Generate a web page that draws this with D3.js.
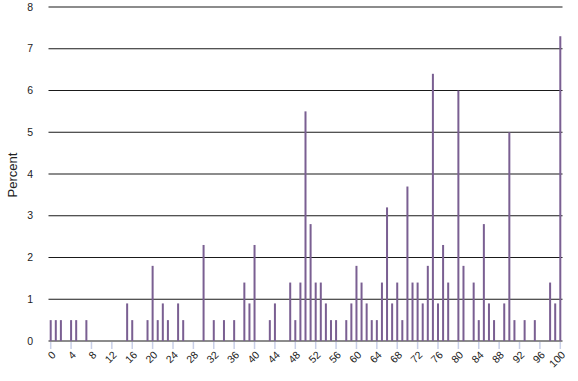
<!DOCTYPE html>
<html><head><meta charset="utf-8">
<script src="https://cdn.jsdelivr.net/npm/d3@7"></script>
<style>body{margin:0;background:#fff}svg{display:block}text{font-family:"Liberation Sans",Arial,sans-serif;fill:#222}</style>
</head><body>
<svg id="c" width="578" height="381"></svg>
<script>
const positions = [0,1,2,4,5,7,15,16,19,20,21,22,23,25,26,30,32,34,36,38,39,40,43,44,47,48,49,50,51,52,53,54,55,56,58,59,60,61,62,63,64,65,66,67,68,69,70,71,72,73,74,75,76,77,78,80,81,83,84,85,86,87,89,90,91,93,95,98,99,100];
const percents = [0.5,0.5,0.5,0.5,0.5,0.5,0.9,0.5,0.5,1.8,0.5,0.9,0.5,0.9,0.5,2.3,0.5,0.5,0.5,1.4,0.9,2.3,0.5,0.9,1.4,0.5,1.4,5.5,2.8,1.4,1.4,0.9,0.5,0.5,0.5,0.9,1.8,1.4,0.9,0.5,0.5,1.4,3.2,0.9,1.4,0.5,3.7,1.4,1.4,0.9,1.8,6.4,0.9,2.3,1.4,6.0,1.8,1.4,0.5,2.8,0.9,0.5,0.9,5.0,0.5,0.5,0.5,1.4,0.9,7.3];
const xTicks = d3.range(0,101,4);
const yTicks = [0,1,2,3,4,5,6,7,8];
const yLabel = "Percent";

const svg = d3.select("#c");
const x = d3.scaleLinear().domain([0,100]).range([50.7,560.3]);
const y = d3.scaleLinear().domain([0,8]).range([341,7]);

// gridlines
svg.append("g").selectAll("line").data(yTicks).join("line")
  .attr("x1",48.5).attr("x2",562.5)
  .attr("y1",d=>y(d)).attr("y2",d=>y(d))
  .attr("stroke","#1a1a1a").attr("stroke-width",1.2);

// y labels
svg.append("g").selectAll("text").data(yTicks).join("text")
  .attr("x",33).attr("y",d=>y(d)).attr("dy","0.35em")
  .attr("text-anchor","end").attr("font-size",10.5).text(d=>d);

// x ticks
svg.append("g").selectAll("line").data(xTicks).join("line")
  .attr("x1",d=>x(d)).attr("x2",d=>x(d)).attr("y1",342).attr("y2",349)
  .attr("stroke","#c9d0e8").attr("stroke-width",1.5);

svg.append("g").selectAll("text").data(xTicks).join("text")
  .attr("transform",d=>`translate(${x(d)+3},${353}) rotate(-45)`)
  .attr("dy","0.35em").attr("text-anchor","end").attr("font-size",10.5).text(d=>d);

// bars
const data = positions.map((p,i)=>({p,v:percents[i]}));
svg.append("g").selectAll("rect").data(data).join("rect")
  .attr("x",d=>x(d.p)-1).attr("width",2)
  .attr("y",d=>y(d.v)).attr("height",d=>y(0)-y(d.v))
  .attr("fill","#7a5f92");

svg.append("text").attr("transform","translate(17,175) rotate(-90)")
  .attr("text-anchor","middle").attr("font-size",13).text(yLabel);
</script>
</body></html>
